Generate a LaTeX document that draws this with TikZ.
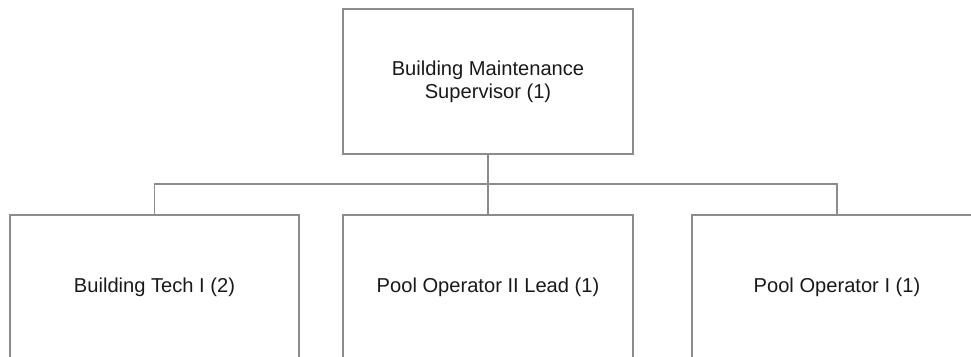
\documentclass[tikz,border=0pt]{standalone}
\usepackage{fontspec}
\setmainfont{Liberation Sans}
\usepackage{tikz}

\begin{document}
\begin{tikzpicture}[x=1bp,y=-1bp,
    post/.style={draw=black!45,line width=1.4bp,minimum width=290bp,minimum height=145bp,
      inner sep=0pt,align=center,font=\fontsize{20.2}{23.5}\selectfont,text=black!90},
    link/.style={draw=black!45,line width=1.4bp}]
      \useasboundingbox (0,0) rectangle (971,356);
      \node[post] (boss) at (488,81.5) {Building Maintenance\\Supervisor (1)};
      \node[post,minimum width=289bp] (tech) at (154.5,287.5) {Building Tech I (2)};
      \node[post] (lead) at (488,287.5) {Pool Operator II Lead (1)};
      \node[post] (pool) at (837,287.5) {Pool Operator I (1)};
      \coordinate (bar) at (0,184);
      \draw[link] (boss.south) -- (lead.north);
      \draw[link] (boss.south |- bar) -| (tech.north);
      \draw[link] (boss.south |- bar) -| (pool.north);
    \end{tikzpicture}
\end{document}
